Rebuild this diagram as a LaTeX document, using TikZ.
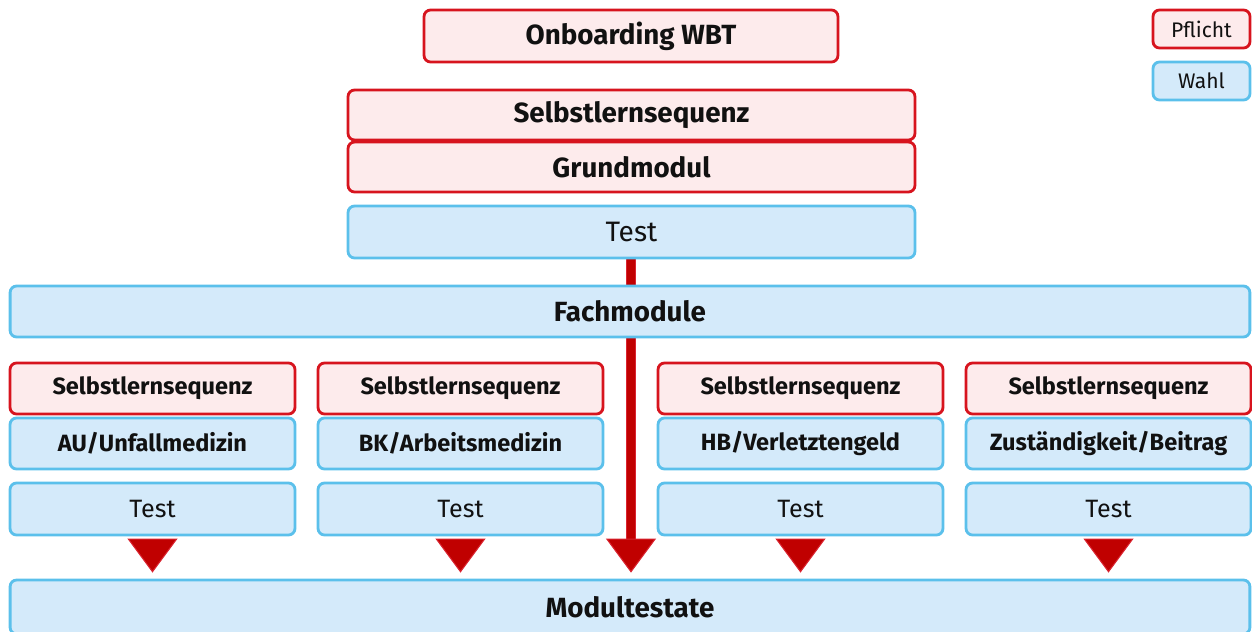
\documentclass[tikz,border=0pt]{standalone}
\usepackage{fontspec}
\setmainfont{Fira Sans}
\usetikzlibrary{arrows.meta,backgrounds}
\definecolor{pflichtrand}{HTML}{D7141E}
\definecolor{pflichtfill}{HTML}{FDEBEC}
\definecolor{wahlrand}{HTML}{5BC0EB}
\definecolor{wahlfill}{HTML}{D4EAFA}
\definecolor{pfeilrot}{HTML}{C00000}
\definecolor{pfeilrand}{HTML}{DA2430}
\definecolor{schrift}{HTML}{111111}
\tikzset{
  kasten/.style={rounded corners=0.13cm, line width=1.6pt, inner sep=0pt, text=schrift},
  pflicht/.style={kasten, draw=pflichtrand, fill=pflichtfill},
  wahl/.style={kasten, draw=wahlrand, fill=wahlfill},
  gross/.style={font=\fontsize{15.8}{18}\selectfont\bfseries},
  klein/.style={font=\fontsize{13.4}{16}\selectfont\bfseries},
  testtext/.style={font=\fontsize{16}{18}\selectfont},
  testklein/.style={font=\fontsize{14.3}{16}\selectfont},
  legende/.style={font=\fontsize{12}{14}\selectfont, minimum width=1.94cm, minimum height=0.76cm},
  kopfpfeil/.style={draw=pfeilrand, line width=0.6pt, shorten <=5*0.02cm, shorten >=6*0.02cm,
    -{Triangle[width=1cm, length=0.68cm, fill=pfeilrot]}},
  schaft/.style={draw=pfeilrand, line width=0.6pt, double=pfeilrot, double distance=0.17cm}
}
\begin{document}
\begin{tikzpicture}[x=0.02cm, y=-0.02cm]
  \useasboundingbox (0,0) rectangle (1252,632);
  % Einstieg
  \node[pflicht, gross, minimum width=8.28cm, minimum height=1.04cm] (onb) at (631,36) {Onboarding WBT};
  \node[pflicht, gross, minimum width=11.34cm, minimum height=1cm] (sls) at (631.5,115) {Selbstlernsequenz};
  \node[pflicht, gross, minimum width=11.34cm, minimum height=1cm] (grund) at (631.5,167) {Grundmodul};
  \node[wahl, testtext, minimum width=11.34cm, minimum height=1.04cm] (test) at (631.5,232) {Test};
  \node[wahl, gross, minimum width=24.8cm, minimum height=1.02cm] (fach) at (630,311.5) {Fachmodule};
  \node[wahl, gross, minimum width=24.8cm, minimum height=1.08cm] (modtest) at (630,607) {Modultestate};
  % Legende
  \node[pflicht, legende] (legpfl) at (1201.5,29) {Pflicht};
  \node[wahl, legende] (legwahl) at (1201.5,81) {Wahl};
  % Fachmodule
  \foreach \x/\n/\t in {152.5/1/{AU/Unfallmedizin}, 460.5/2/{BK/Arbeitsmedizin},
      800.5/3/{HB/Verletztengeld}, 1108.5/4/{Zuständigkeit/Beitrag}} {
    \node[pflicht, klein, minimum width=5.7cm, minimum height=1.02cm] (sls\n) at (\x,388.5) {Selbstlernsequenz};
    \node[wahl, klein, minimum width=5.7cm, minimum height=1.02cm] (thema\n) at (\x,443.5) {\t};
    \node[wahl, testklein, minimum width=5.7cm, minimum height=1.04cm] (test\n) at (\x,509) {Test};
    \draw[kopfpfeil] (test\n.south) -- (modtest.north -| test\n.south);
  }
  % Hauptpfeil
  \coordinate (kopf) at (631,541);
  \begin{scope}[on background layer]
    \draw[schaft] (test.south -| kopf) -- (kopf);
  \end{scope}
  \draw[kopfpfeil, shorten <=0cm] (kopf) -- (modtest.north -| kopf);
\end{tikzpicture}
\end{document}
